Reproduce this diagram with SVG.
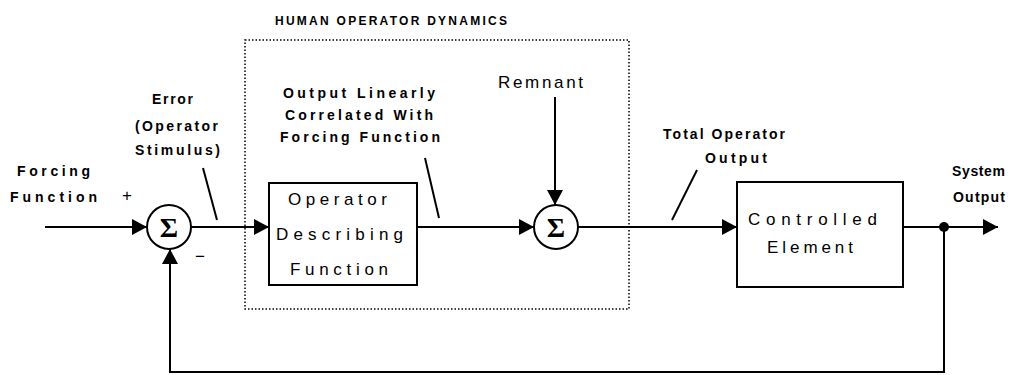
<svg xmlns="http://www.w3.org/2000/svg" width="1019" height="375" viewBox="0 0 1019 375">
<style>
text{font-family:"Liberation Sans","DejaVu Sans",Arial,sans-serif;fill:#000}
.s{font-size:14px;font-weight:bold}
.h{font-size:12px;font-weight:bold}
.m{font-size:17px}
.sig{font-family:"Liberation Serif","DejaVu Serif",serif;font-size:28px;font-weight:bold}
.ln{stroke:#000;stroke-width:2;fill:none}
.box{stroke:#000;stroke-width:2;fill:#fff}
</style>
<defs>
<marker id="ah" markerUnits="userSpaceOnUse" markerWidth="18" markerHeight="18" refX="16" refY="9" orient="auto">
<path d="M1,1 L16,9 L1,17 Z" fill="#000"/>
</marker>
</defs>
<rect x="245" y="40" width="384" height="269" fill="none" stroke="#000" stroke-width="1.5" stroke-dasharray="1.5 2"/>
<text class="h" x="275" y="25" textLength="232">HUMAN OPERATOR DYNAMICS</text>
<g id="connectors">
<line class="ln" x1="45" y1="227" x2="147" y2="227" marker-end="url(#ah)"/>
<line class="ln" x1="191" y1="227" x2="269" y2="227" marker-end="url(#ah)"/>
<line class="ln" x1="417" y1="227" x2="534" y2="227" marker-end="url(#ah)"/>
<line class="ln" x1="555" y1="97" x2="555" y2="205" marker-end="url(#ah)"/>
<line class="ln" x1="578" y1="227" x2="737" y2="227" marker-end="url(#ah)"/>
<line class="ln" x1="903" y1="227" x2="998" y2="227" marker-end="url(#ah)"/>
<polyline class="ln" points="944,227 944,372 170,372 170,249" marker-end="url(#ah)"/>
<circle cx="944" cy="227" r="5" fill="#000"/>
<line class="ln" stroke-width="1.5" x1="203" y1="168" x2="217" y2="220"/>
<line class="ln" stroke-width="1.5" x1="425" y1="158" x2="439" y2="218"/>
<line class="ln" stroke-width="1.5" x1="697" y1="170" x2="672" y2="220"/>
</g>
<g id="sum1">
<circle cx="169" cy="227" r="22" class="box"/>
<text class="sig" x="169" y="237" text-anchor="middle">Σ</text>
</g>
<g id="sum2">
<circle cx="556" cy="227" r="22" class="box"/>
<text class="sig" x="556" y="237" text-anchor="middle">Σ</text>
</g>
<g id="operator">
<rect x="269" y="183" width="148" height="102" class="box"/>
<text class="m" x="288" y="205" textLength="99">Operator</text>
<text class="m" x="276" y="240" textLength="127">Describing</text>
<text class="m" x="290" y="275" textLength="98">Function</text>
</g>
<g id="controlled">
<rect x="737" y="182" width="166" height="105" class="box"/>
<text class="m" x="748" y="225" textLength="129">Controlled</text>
<text class="m" x="767" y="253" textLength="86">Element</text>
</g>
<g id="labels">
<text class="s" x="17" y="176" textLength="73">Forcing</text>
<text class="s" x="10" y="202" textLength="87">Function</text>
<text class="m" x="127" y="201" text-anchor="middle">+</text>
<text class="m" x="200" y="262" text-anchor="middle">−</text>
<text class="s" x="152" y="104" textLength="41">Error</text>
<text class="s" x="135" y="131" textLength="83">(Operator</text>
<text class="s" x="135" y="155" textLength="85">Stimulus)</text>
<text class="s" x="283" y="98" textLength="152">Output Linearly</text>
<text class="s" x="285" y="120" textLength="148">Correlated With</text>
<text class="s" x="280" y="142" textLength="160">Forcing Function</text>
<text class="m" x="498" y="88" textLength="85">Remnant</text>
<text class="s" x="663" y="139" textLength="122">Total Operator</text>
<text class="s" x="705" y="163" textLength="62">Output</text>
<text class="s" x="952" y="176" textLength="53">System</text>
<text class="s" x="953" y="202" textLength="52">Output</text>
</g>
</svg>
